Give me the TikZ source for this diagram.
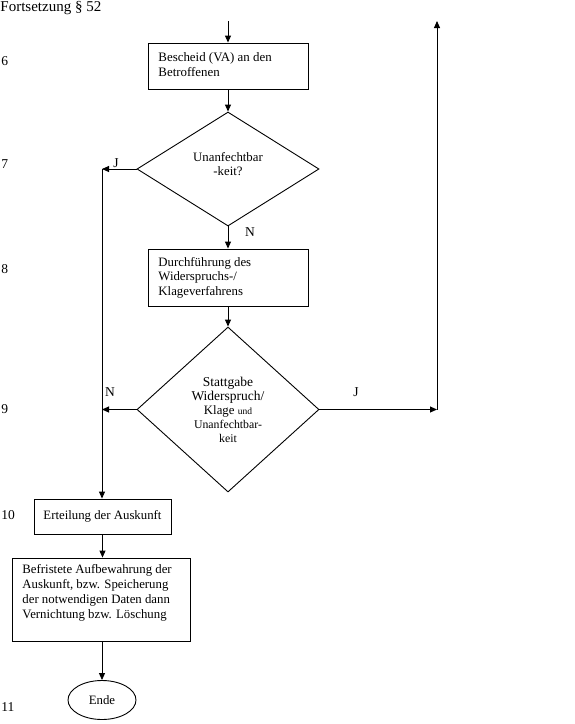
\documentclass[tikz,border=0pt]{standalone}
\usepackage{fontspec}
\setmainfont{Liberation Serif}
\usetikzlibrary{shapes.geometric,arrows.meta}
\begin{document}
\begin{tikzpicture}[x=1pt,y=-1pt,
  line width=0.9pt,
  arr/.style={-{Triangle[length=7pt,width=6pt]}},
  box/.style={draw, rectangle, inner sep=0pt},
  dia/.style={draw, diamond, inner sep=0pt},
  lbl/.style={font=\fontsize{13.5}{15}\selectfont, inner sep=0pt},
  txt/.style={font=\fontsize{12.8}{14}\selectfont, inner sep=0pt, align=left},
]
\useasboundingbox (0,0) rectangle (575,724);

% title and row numbers
\node[lbl, anchor=west, font=\fontsize{15}{17}\selectfont] (title) at (0,8.5) {Fortsetzung § 52};
\node[lbl, anchor=west] (n6) at (1,61) {6};
\node[lbl, anchor=west] (n7) at (1,164) {7};
\node[lbl, anchor=west] (n8) at (1,269) {8};
\node[lbl, anchor=west] (n9) at (1,409) {9};
\node[lbl, anchor=west] (n10) at (1,515) {10};
\node[lbl, anchor=west] (n11) at (1,707) {11};

% shapes
\node[box, minimum width=160pt, minimum height=46pt] (b1) at (228,66) {};
\node[txt, anchor=west, font=\fontsize{12.9}{14.5}\selectfont] (t1) at (158,64.5) {Bescheid (VA) an den\\Betroffenen};

\node[dia, minimum width=182pt, minimum height=114pt] (d1) at (228,169) {};
\node[txt, align=center, font=\fontsize{12.8}{14}\selectfont] (td1) at (228,164) {Unanfechtbar\\-keit?};

\node[box, minimum width=160pt, minimum height=57pt] (b2) at (228,277.5) {};
\node[txt, anchor=west, font=\fontsize{12.8}{14.5}\selectfont] (t2) at (158,277.5) {Durchführung des\\Widerspruchs-/\\Klageverfahrens};

\node[dia, minimum width=182pt, minimum height=165pt, align=center, font=\fontsize{12.8}{14}\selectfont] (d2) at (228,409.5)
  {{\fontsize{13.5}{14}\selectfont Stattgabe}\\
   {\fontsize{13.5}{14}\selectfont Widerspruch/}\\
   Klage {\fontsize{9.5}{10}\selectfont und}\\
   {\fontsize{11.8}{14}\selectfont Unanfechtbar-}\\
   {\fontsize{11.8}{14}\selectfont keit}};

\node[box, minimum width=137pt, minimum height=35pt, font=\fontsize{12.8}{14}\selectfont] (b10) at (102.5,516.5) {Erteilung der Auskunft};

\node[box, minimum width=178pt, minimum height=83pt] (b11) at (101,599.5) {};
\node[txt, anchor=west, font=\fontsize{12.8}{15}\selectfont] (t11) at (22,593) {Befristete Aufbewahrung der\\Auskunft, bzw. Speicherung\\der notwendigen Daten dann\\Vernichtung bzw. Löschung};

\node[draw, ellipse, minimum width=68pt, minimum height=39pt, inner sep=0pt, font=\fontsize{12.8}{14}\selectfont] (ende) at (102,700) {Ende};

% coordinates
\coordinate (topin) at (228,21);
\coordinate (topout) at (437,21);
\coordinate (j1) at (102,169);
\coordinate (n2) at (j1 |- d2.west);
\coordinate (jr) at (topout |- d2.east);

% connectors
\draw[arr] (topin) -- (b1.north);
\draw[arr] (b1.south) -- (d1.north);
\draw[arr] (d1.west) -- (j1);
\draw[arr] (j1) -- (j1 |- b10.north);
\draw[arr] (d1.south) -- (b2.north);
\draw[arr] (b2.south) -- (d2.north);
\draw[arr] (d2.west) -- (n2);
\draw[arr] (d2.east) -- (jr);
\draw[arr] (jr) -- (topout);
\draw[arr] (b10.south) -- (b10.south |- b11.north);
\draw[arr] (b11.south -| ende.north) -- (ende.north);

% branch labels
\node[lbl] (lj1) at (116,163) {J};
\node[lbl] (ln1) at (250,232) {N};
\node[lbl] (ln2) at (110,392) {N};
\node[lbl] (lj2) at (356,392) {J};
\end{tikzpicture}
\end{document}
